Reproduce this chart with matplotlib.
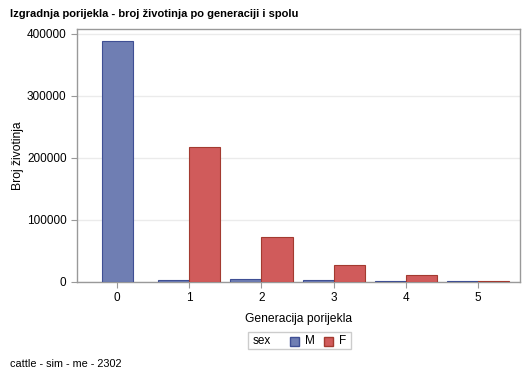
import matplotlib
matplotlib.use("Agg")
import numpy as np
from matplotlib import pyplot as plt
from matplotlib.patches import Rectangle

# data
generations = [0, 1, 2, 3, 4, 5]
males = [388000, 3000, 5000, 3000, 1500, 1000]
females = [0, 217000, 72000, 27000, 11000, 1000]

m_fill, m_edge = "#6f7eb3", "#3f4f94"
f_fill, f_edge = "#d05b5b", "#a33a30"
frame = "#999999"

plt.rcParams['font.family'] = ['Liberation Sans', 'DejaVu Sans']

W, H = 529, 378
fig = plt.figure(figsize=(W / 100, H / 100), dpi=100)
ax = fig.add_axes([77 / W, 1 - 282 / H, (520 - 77) / W, (282 - 29) / H])

w = 0.43
x = np.array(generations, dtype=float)
# generation 0 has only males, so that bar sits centred
m_pos = np.where(np.array(females) == 0, x, x - w / 2)
ax.bar(m_pos, males, width=w, color=m_fill, edgecolor=m_edge, linewidth=0.8, zorder=3)
f_idx = [i for i, v in enumerate(females) if v > 0]
ax.bar(x[f_idx] + w / 2, [females[i] for i in f_idx], width=w,
       color=f_fill, edgecolor=f_edge, linewidth=0.8, zorder=3)

ax.set_xlim(-0.555, 5.58)
ax.set_ylim(0, 408000)
ax.set_xticks(generations)
ax.set_yticks([0, 100000, 200000, 300000, 400000])
ax.yaxis.grid(True, color="#ebebeb", linewidth=1, zorder=0)
for s in ax.spines.values():
    s.set_color(frame)
    s.set_linewidth(1)
ax.tick_params(colors=frame, labelcolor="black", labelsize=8.5, length=4)

ax.set_xlabel("Generacija porijekla", fontsize=8.7, labelpad=6)
ax.set_ylabel("Broj životinja", fontsize=8.7, labelpad=2)

fig.text(10 / W, 1 - 14 / H, "Izgradnja porijekla - broj životinja po generaciji i spolu",
         fontsize=8, fontweight="bold", va="center")
fig.text(10 / W, 1 - 364 / H, "cattle - sim - me - 2302", fontsize=7.8, va="center")

# legend drawn by hand: "sex" sits left of the swatches, as in the original
def px(xp, yp):
    return xp / W, 1 - yp / H

fig.patches.append(Rectangle(px(248, 349), 103 / W, 17 / H, transform=fig.transFigure,
                             facecolor="white", edgecolor="#cccccc", linewidth=1))
fig.text(*px(253, 341), "sex", fontsize=8.5, va="center")
for x0, label, fc, ec in [(290, "M", m_fill, m_edge), (324, "F", f_fill, f_edge)]:
    fig.patches.append(Rectangle(px(x0, 345.5), 9 / W, 9 / H, transform=fig.transFigure,
                                 facecolor=fc, edgecolor=ec, linewidth=1))
    fig.text(*px(x0 + 15, 341), label, fontsize=8.5, va="center")

fig.savefig("out.png", dpi=100)
